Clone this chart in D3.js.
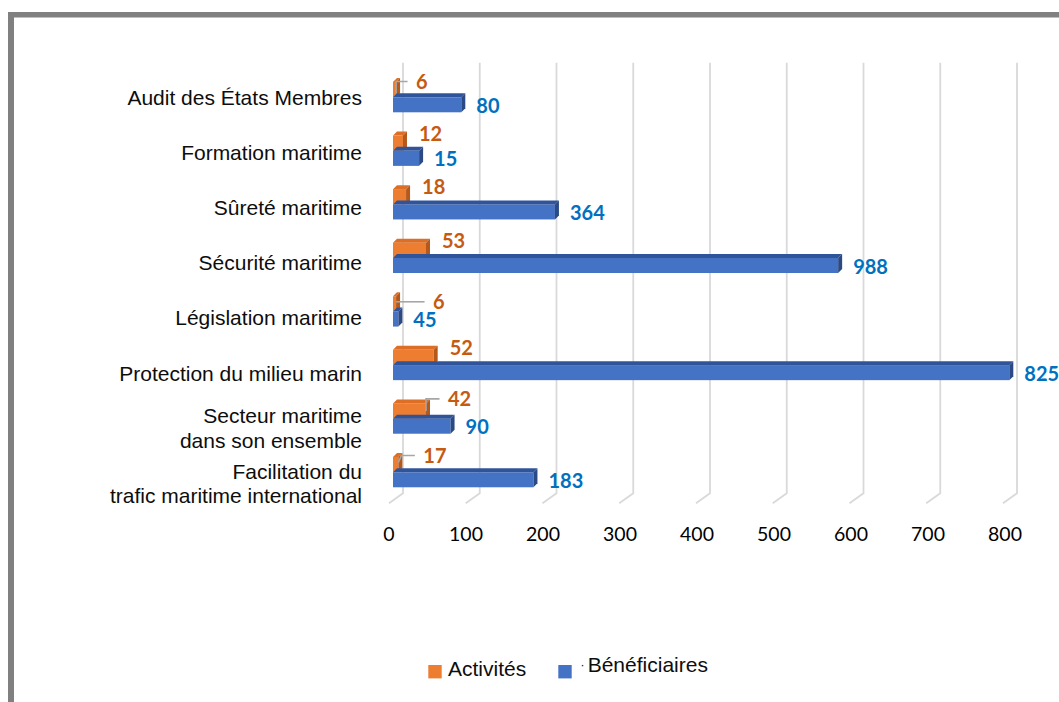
<!DOCTYPE html>
<html>
<head>
<meta charset="utf-8">
<script src="https://cdn.jsdelivr.net/npm/d3@7"></script>
<style>
  html, body { margin: 0; padding: 0; background: #ffffff; }
  svg { display: block; }
</style>
</head>
<body>
<script>
// ---------- data ----------
const categories = [
  "Audit des États Membres",
  "Formation maritime",
  "Sûreté maritime",
  "Sécurité maritime",
  "Législation maritime",
  "Protection du milieu marin",
  "Secteur maritime\ndans son ensemble",
  "Facilitation du\ntrafic maritime international"
];
// printed data labels
const activitesLabels     = [6, 12, 18, 53, 6, 52, 42, 17];
const beneficiairesLabels = [80, 15, 364, 988, 45, 825, 90, 183];
// bar lengths as drawn against the 0–800 axis
const activitesBars     = [4, 13, 17, 43, 4, 53, 43, 7];
const beneficiairesBars = [89, 34, 211, 580, 7, 803, 75, 183];
const tickValues = [0, 100, 200, 300, 400, 500, 600, 700, 800];
const seriesNames = ["Activités", "Bénéficiaires"];

// ---------- layout ----------
const W = 1059, H = 702;
const svg = d3.select("body").append("svg").attr("width", W).attr("height", H);

// frame
svg.append("rect").attr("x", 8).attr("y", 12).attr("width", W - 8).attr("height", 5.5).attr("fill", "#808080");
svg.append("rect").attr("x", 8).attr("y", 12).attr("width", 6).attr("height", H - 12).attr("fill", "#808080");

const xBack  = d3.scaleLinear().domain([0, 800]).range([403, 1017]);
const xFront = d3.scaleLinear().domain([0, 800]).range([393, 1007]);
const xTick  = d3.scaleLinear().domain([0, 800]).range([388.5, 1004.5]);
const yBand  = d3.scaleBand().domain(categories).range([82, 82 + 53.57 * categories.length]);
const yLabel = d3.scalePoint().domain(categories).range([97, 483.4]);

// gridlines (back wall + floor edge)
svg.append("g").selectAll("path").data(tickValues).join("path")
  .attr("d", t => `M${xBack(t)},62.7 V493.3 L${xBack(t) - 14},503.3`)
  .attr("fill", "none").attr("stroke", "#d9d9d9").attr("stroke-width", 1.8);

// x axis tick labels
const axisG = svg.append("g").attr("transform", "translate(0,527)")
  .call(d3.axisBottom(xTick).tickValues(tickValues).tickSize(0).tickPadding(0).tickFormat(d3.format("d")));
axisG.select(".domain").remove();
axisG.selectAll("text")
  .attr("font-family", "Lato, 'Open Sans', sans-serif")
  .attr("font-size", "19.5px").attr("fill", "#000");

// category labels
const catG = svg.append("g");
categories.forEach(c => {
  const lines = c.split("\n");
  const n = lines.length;
  lines.forEach((ln, k) => {
    catG.append("text")
      .attr("x", 362)
      .attr("y", yLabel(c) + (k - (n - 1) / 2) * 24.5 + 7.5)
      .attr("text-anchor", "end")
      .attr("font-family", "'Liberation Sans', Arial, sans-serif")
      .attr("font-size", "21px").attr("fill", "#0d0d0d")
      .text(ln);
  });
});

// 3D bar helper
const D = 4, BH = 15;
function bar3d(g, v, y, cols) {
  const x0 = xFront(0), x1 = xFront(v);
  g.append("rect").attr("x", x0).attr("y", y).attr("width", x1 - x0).attr("height", BH).attr("fill", cols.front);
  g.append("path").attr("d", `M${x0},${y} L${x0 + D},${y - D} L${x1 + D},${y - D} L${x1},${y} Z`).attr("fill", cols.top);
  g.append("path").attr("d", `M${x1},${y} L${x1 + D},${y - D} L${x1 + D},${y + BH - D} L${x1},${y + BH} Z`).attr("fill", cols.side);
}
const orangeCols = { front: "#ED7D31", top: "#DC6E25", side: "#B5591B" };
const blueCols   = { front: "#4472C4", top: "#30549A", side: "#2B4A84" };

// label adjustments for labels moved off the bar (with leader lines)
const movedLabels = {
  "Audit des États Membres": { dx: 4, dy: 2, drop: 12, slant: 0 },
  "Législation maritime": { dx: 21, dy: 8, drop: 0, slant: 0 },
  "Secteur maritime\ndans son ensemble": { dx: 6, dy: -2, drop: 12, slant: 0 },
  "Facilitation du\ntrafic maritime international": { dx: 9, dy: 1, drop: 7, slant: 3 }
};

const barsG = svg.append("g");
const lblG = svg.append("g");
categories.forEach((c, i) => {
  const oy = yBand(c);
  const by = oy + 15.3;
  bar3d(barsG, activitesBars[i], oy, orangeCols);
  bar3d(barsG, beneficiairesBars[i], by, blueCols);

  // orange label
  const m = movedLabels[c] || { dx: 0, dy: 0 };
  const oEnd = xFront(activitesBars[i]);
  const ox = oEnd + D + 12 + m.dx;
  const oBase = oy + 5 + m.dy;
  if (movedLabels[c]) {
    const hy = oBase - 7.5;
    const pts = [[oEnd, hy + m.drop], [oEnd + m.slant, hy], [ox - 8.5, hy]];
    lblG.append("path").attr("d", d3.line()(pts))
      .attr("fill", "none").attr("stroke", "#A6A6A6").attr("stroke-width", 1.6);
  }
  lblG.append("text").attr("x", ox).attr("y", oBase)
    .attr("font-family", "Lato, 'Open Sans', sans-serif").attr("font-weight", "bold")
    .attr("font-size", "20px").attr("fill", "#C55A11")
    .text(activitesLabels[i]);

  // blue label
  lblG.append("text").attr("x", xFront(beneficiairesBars[i]) + D + 11).attr("y", by + BH + 0.5)
    .attr("font-family", "Lato, 'Open Sans', sans-serif").attr("font-weight", "bold")
    .attr("font-size", "20px").attr("fill", "#0070C0")
    .text(beneficiairesLabels[i]);
});

// legend
const lg = svg.append("g");
lg.append("rect").attr("x", 428.3).attr("y", 665).attr("width", 13.4).attr("height", 13.4).attr("fill", "#ED7D31");
lg.append("text").attr("x", 448).attr("y", 675.5)
  .attr("font-family", "'Liberation Sans', Arial, sans-serif").attr("font-size", "21px").attr("fill", "#0d0d0d")
  .text(seriesNames[0]);
lg.append("rect").attr("x", 558.3).attr("y", 665).attr("width", 13.4).attr("height", 13.4).attr("fill", "#4472C4");
lg.append("text").attr("x", 580.5).attr("y", 669)
  .attr("font-family", "'Liberation Sans', Arial, sans-serif").attr("font-size", "12px").attr("fill", "#0d0d0d")
  .text("·");
lg.append("text").attr("x", 587.7).attr("y", 672.3)
  .attr("font-family", "'Liberation Sans', Arial, sans-serif").attr("font-size", "21px").attr("fill", "#0d0d0d")
  .text(seriesNames[1]);
</script>
</body>
</html>
